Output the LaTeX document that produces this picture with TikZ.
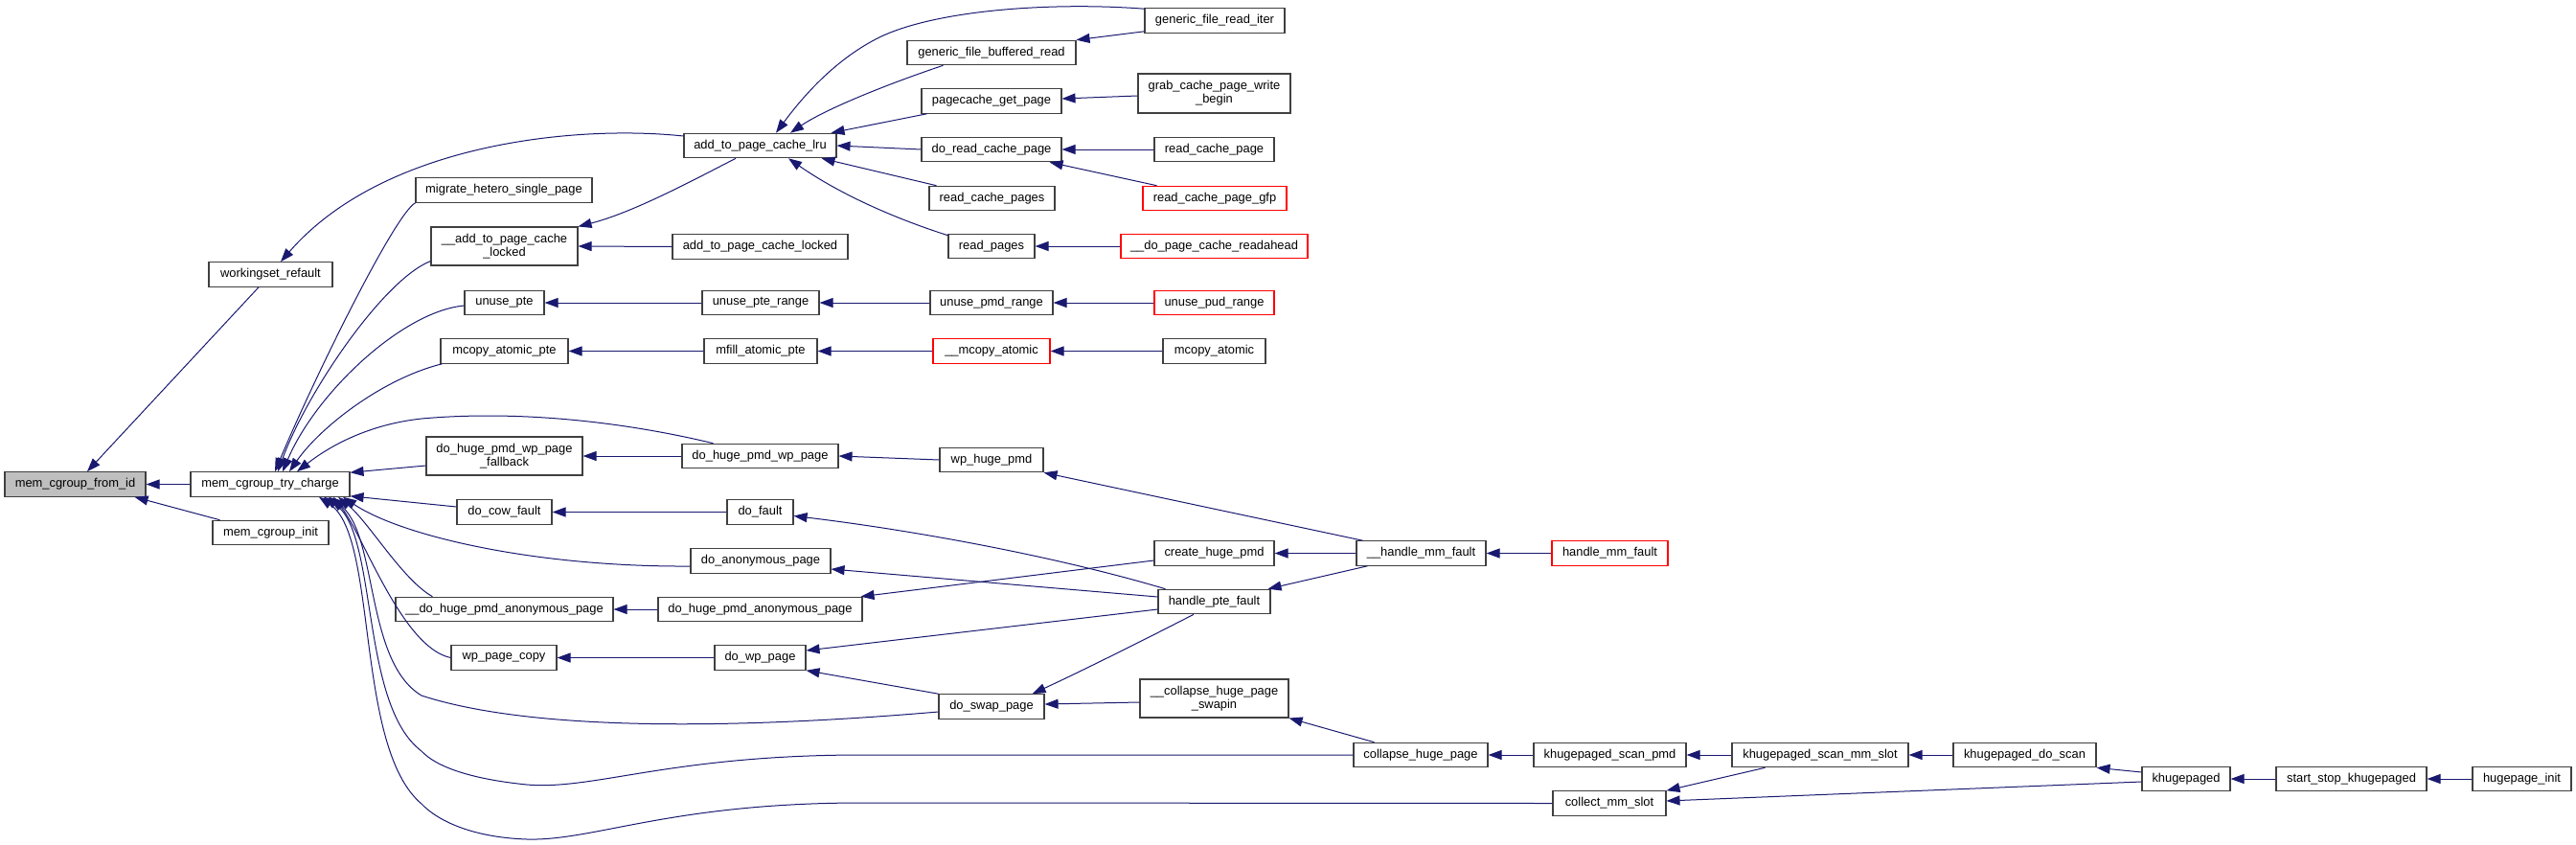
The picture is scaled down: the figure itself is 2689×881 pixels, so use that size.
\documentclass[tikz,border=0pt]{standalone}
\usepackage{fontspec}
\setmainfont{Liberation Sans}
\usetikzlibrary{arrows.meta,calc}
\definecolor{edgec}{HTML}{191970}
\definecolor{boxc}{HTML}{404040}
\definecolor{redc}{HTML}{FF0000}
\definecolor{rootfill}{HTML}{BFBFBF}
\begin{document}
\begin{tikzpicture}[x=1pt,y=-1pt,
  fn/.style={draw=boxc, line width=1.1pt, fill=white, inner sep=0pt, minimum height=25.5pt, font=\fontsize{12.9}{14}\selectfont, align=center},
  fntwo/.style={fn, minimum height=40pt},
  redfn/.style={fn, draw=redc},
  call/.style={draw=edgec, line width=1pt, -{Triangle[length=14pt,width=10pt]}}]
\useasboundingbox (0,0) rectangle (2689,881);

% nodes
\node[fn, fill=rootfill, minimum width=147pt] (fromid) at (78.5,505.5) {mem\_cgroup\_from\_id};
\node[fn, minimum width=166pt] (trycharge) at (282,505.5) {mem\_cgroup\_try\_charge};
\node[fn, minimum width=121pt] (cginit) at (282.5,556) {mem\_cgroup\_init};
\node[fn, minimum width=129pt] (wsrefault) at (282.5,286.5) {workingset\_refault};
\node[fn, minimum width=159pt] (lru) at (793.5,152) {add\_to\_page\_cache\_lru};
\node[fn, minimum width=184pt] (migrate) at (526,198.5) {migrate\_hetero\_single\_page};
\node[fntwo, minimum width=153pt] (addlockedb) at (526.5,257) {\_\_add\_to\_page\_cache\\\_locked};
\node[fn, minimum width=183pt] (addlocked) at (793.5,257.5) {add\_to\_page\_cache\_locked};
\node[fn, minimum width=83pt] (unusepte) at (526.5,316) {unuse\_pte};
\node[fn, minimum width=122pt] (unuseptr) at (794,316) {unuse\_pte\_range};
\node[fn, minimum width=133pt] (mcopypte) at (526.5,366.5) {mcopy\_atomic\_pte};
\node[fn, minimum width=118pt] (mfillpte) at (794,366.5) {mfill\_atomic\_pte};
\node[fntwo, minimum width=163pt] (fallback) at (526.5,476) {do\_huge\_pmd\_wp\_page\\\_fallback};
\node[fn, minimum width=163pt] (hpwp) at (793.5,476) {do\_huge\_pmd\_wp\_page};
\node[fn, minimum width=99pt] (cowfault) at (526.5,534.5) {do\_cow\_fault};
\node[fn, minimum width=69pt] (dofault) at (793.5,534.5) {do\_fault};
\node[fn, minimum width=146pt] (doanon) at (794,585.5) {do\_anonymous\_page};
\node[fn, minimum width=227pt] (hpanonb) at (526.5,636) {\_\_do\_huge\_pmd\_anonymous\_page};
\node[fn, minimum width=213pt] (hpanon) at (793.5,636) {do\_huge\_pmd\_anonymous\_page};
\node[fn, minimum width=110pt] (wpcopy) at (526,686.5) {wp\_page\_copy};
\node[fn, minimum width=95pt] (dowp) at (793.5,686.5) {do\_wp\_page};
\node[fn, minimum width=146pt] (readiter) at (1268,21.5) {generic\_file\_read\_iter};
\node[fn, minimum width=176pt] (bufread) at (1035,55) {generic\_file\_buffered\_read};
\node[fntwo, minimum width=159pt, minimum height=41pt] (grab) at (1267.5,97.5) {grab\_cache\_page\_write\\\_begin};
\node[fn, minimum width=146pt] (pgget) at (1035,105.5) {pagecache\_get\_page};
\node[fn, minimum width=146pt] (doreadcp) at (1035,156) {do\_read\_cache\_page};
\node[fn, minimum width=125pt] (readcp) at (1267.5,156) {read\_cache\_page};
\node[fn, minimum width=131pt] (readcps) at (1035.5,207) {read\_cache\_pages};
\node[redfn, minimum width=150pt] (readgfp) at (1268,207) {read\_cache\_page\_gfp};
\node[fn, minimum width=90pt] (readpages) at (1035,257) {read\_pages};
\node[redfn, minimum width=195pt] (readahead) at (1267.5,257) {\_\_do\_page\_cache\_readahead};
\node[fn, minimum width=128pt] (unusepmd) at (1035,316) {unuse\_pmd\_range};
\node[redfn, minimum width=125pt] (unusepud) at (1267.5,316) {unuse\_pud\_range};
\node[redfn, minimum width=122pt] (mcopyatomicb) at (1035,366.5) {\_\_mcopy\_atomic};
\node[fn, minimum width=107pt] (mcopyatomic) at (1267.5,366.5) {mcopy\_atomic};
\node[fn, minimum width=108pt] (wphugepmd) at (1035,480) {wp\_huge\_pmd};
\node[fn, minimum width=125pt] (createpmd) at (1267.5,577.5) {create\_huge\_pmd};
\node[fn, minimum width=117pt] (handlepte) at (1267.5,628) {handle\_pte\_fault};
\node[fn, minimum width=110pt] (doswap) at (1035,737.5) {do\_swap\_page};
\node[fntwo, minimum width=155pt] (swapin) at (1267.5,729) {\_\_collapse\_huge\_page\\\_swapin};
\node[fn, minimum width=135pt] (handlemmb) at (1483.5,577.5) {\_\_handle\_mm\_fault};
\node[redfn, minimum width=121pt] (handlemm) at (1680.5,577.5) {handle\_mm\_fault};
\node[fn, minimum width=140pt] (collapse) at (1483,788) {collapse\_huge\_page};
\node[fn, minimum width=159pt] (scanpmd) at (1680.5,788) {khugepaged\_scan\_pmd};
\node[fn, minimum width=118pt] (collect) at (1680,838.5) {collect\_mm\_slot};
\node[fn, minimum width=184pt] (scanmm) at (1900,788) {khugepaged\_scan\_mm\_slot};
\node[fn, minimum width=149pt] (doscan) at (2113.5,788) {khugepaged\_do\_scan};
\node[fn, minimum width=92pt] (khugepaged) at (2282,813) {khugepaged};
\node[fn, minimum width=157pt] (startstop) at (2454.5,813) {start\_stop\_khugepaged};
\node[fn, minimum width=103pt] (hpinit) at (2632.5,813) {hugepage\_init};

% edges into mem_cgroup_from_id
\draw[call] (trycharge.west) -- (fromid.east);
\draw[call] ($(wsrefault.south)+(-12.5,0)$) -- ($(fromid.north)+(12.5,0)$);
\draw[call] ($(cginit.north west)+(8,0)$) -- ($(fromid.south east)+(-12,0)$);
\draw[call] ($(lru.west)+(0,-10)$) .. controls (600,130) and (400,150) .. ($(wsrefault.north)+(10.5,0)$);

% edges into mem_cgroup_try_charge (top)
\draw[call] (migrate.south west) .. controls (412,224) and (330,390) .. ($(trycharge.north)+(5,0)$);
\draw[call] ($(addlockedb.south west)+(0,-5)$) .. controls (400,292) and (320,410) .. ($(trycharge.north)+(8,0)$);
\draw[call] ($(unusepte.west)+(0,3)$) .. controls (420,325) and (330,410) .. ($(trycharge.north)+(13,0)$);
\draw[call] ($(mcopypte.south west)+(2,0)$) .. controls (400,395) and (335,445) .. ($(trycharge.north)+(20,0)$);
\draw[call] ($(hpwp.north west)+(33,0)$) .. controls (650,440) and (540,428) .. (440,437) .. controls (385,443) and (345,465) .. ($(trycharge.north)+(28,0)$);
\draw[call] ($(fallback.west)+(0,10)$) -- ($(trycharge.north east)+(0,1)$);
\draw[call] ($(cowfault.west)+(0,-5.5)$) -- ($(trycharge.south east)+(0,-1)$);

% edges into mem_cgroup_try_charge (bottom)
\draw[call] ($(doanon.west)+(0,5.5)$) .. controls (560,592) and (420,560) .. ($(trycharge.south)+(76,0)$);
\draw[call] ($(hpanonb.north west)+(39,0)$) .. controls (420,605) and (385,545) .. ($(trycharge.south)+(71,0)$);
\draw[call] (wpcopy.west) .. controls (420,676) and (380,560) .. ($(trycharge.south)+(66,0)$);
\draw[call] ($(doswap.west)+(0,5.5)$) .. controls (780,760) and (560,765) .. (440,726) .. controls (380,690) and (395,555) .. ($(trycharge.south)+(61,0)$);
\draw[call] (collapse.west) -- (900,788) .. controls (700,788) and (620,825) .. (550,819) .. controls (490,813) and (455,800) .. (440,784) .. controls (375,735) and (395,555) .. ($(trycharge.south)+(56,0)$);
\draw[call] (collect.west) -- (900,838) .. controls (700,838) and (620,878) .. (550,876) .. controls (490,874) and (455,855) .. (440,839) .. controls (370,780) and (395,560) .. ($(trycharge.south)+(51,0)$);

% page cache
\draw[call] ($(readiter.north west)+(0,1)$) .. controls (1100,2) and (980,10) .. (920,38) .. controls (870,62) and (835,105) .. ($(lru.north)+(16.5,0)$);
\draw[call] ($(bufread.south west)+(38,0)$) .. controls (920,90) and (860,115) .. ($(lru.north)+(31.5,0)$);
\draw[call] ($(readiter.south west)+(0,-2)$) -- (bufread.north east);
\draw[call] ($(pgget.south west)+(6,0)$) -- ($(lru.north east)+(-6,0)$);
\draw[call] ($(grab.west)+(0,2.5)$) -- ($(pgget.east)+(0,-2.5)$);
\draw[call] (doreadcp.west) -- (lru.east);
\draw[call] (readcp.west) -- (doreadcp.east);
\draw[call] ($(readgfp.north west)+(15,0)$) -- ($(doreadcp.south east)+(-13,0)$);
\draw[call] ($(readcps.north west)+(8,0)$) -- ($(lru.south east)+(-16,0)$);
\draw[call] ($(readpages.north west)+(0,2)$) .. controls (940,230) and (880,205) .. ($(lru.south)+(29.5,0)$);
\draw[call] (readahead.west) -- (readpages.east);
\draw[call] ($(lru.south)+(-25.5,0)$) .. controls (720,190) and (660,222) .. (addlockedb.north east);
\draw[call] (addlocked.west) -- (addlockedb.east);

% chains
\draw[call] (unuseptr.west) -- (unusepte.east);
\draw[call] (unusepmd.west) -- (unuseptr.east);
\draw[call] (unusepud.west) -- (unusepmd.east);
\draw[call] (mfillpte.west) -- (mcopypte.east);
\draw[call] (mcopyatomicb.west) -- (mfillpte.east);
\draw[call] (mcopyatomic.west) -- (mcopyatomicb.east);
\draw[call] (hpwp.west) -- (fallback.east);
\draw[call] (wphugepmd.west) -- (hpwp.east);
\draw[call] (dofault.west) -- (cowfault.east);

% fault handling
\draw[call] ($(handlemmb.north west)+(7,0)$) -- (wphugepmd.south east);
\draw[call] ($(handlepte.north west)+(8,0)$) .. controls (1100,580) and (950,553) .. ($(dofault.east)+(0,4)$);
\draw[call] ($(handlepte.west)+(0,-5)$) -- ($(doanon.east)+(0,8.5)$);
\draw[call] ($(createpmd.west)+(0,7.5)$) -- ($(hpanon.north east)+(-2,0)$);
\draw[call] (hpanon.west) -- (hpanonb.east);
\draw[call] (handlemmb.west) -- (createpmd.east);
\draw[call] ($(handlemmb.south west)+(12,0)$) -- ($(handlepte.north east)+(-3,0)$);
\draw[call] (handlemm.west) -- (handlemmb.east);
\draw[call] ($(handlepte.west)+(0,8)$) -- ($(dowp.east)+(0,-7.5)$);
\draw[call] (dowp.west) -- (wpcopy.east);
\draw[call] (doswap.north west) -- (dowp.south east);
\draw[call] ($(handlepte.south)+(-21.5,0)$) .. controls (1200,665) and (1130,700) .. ($(doswap.north east)+(-13,0)$);
\draw[call] ($(swapin.west)+(0,4)$) -- ($(doswap.east)+(0,-2.5)$);

% khugepaged
\draw[call] ($(collapse.north west)+(22,0)$) -- (swapin.south east);
\draw[call] (scanpmd.west) -- (collapse.east);
\draw[call] (scanmm.west) -- (scanpmd.east);
\draw[call] ($(scanmm.south west)+(35,0)$) -- (collect.north east);
\draw[call] (doscan.west) -- (scanmm.east);
\draw[call] ($(khugepaged.west)+(0,-7)$) -- (doscan.south east);
\draw[call] ($(khugepaged.west)+(0,3)$) -- ($(collect.east)+(0,-2.5)$);
\draw[call] (startstop.west) -- (khugepaged.east);
\draw[call] (hpinit.west) -- (startstop.east);
\end{tikzpicture}
\end{document}
